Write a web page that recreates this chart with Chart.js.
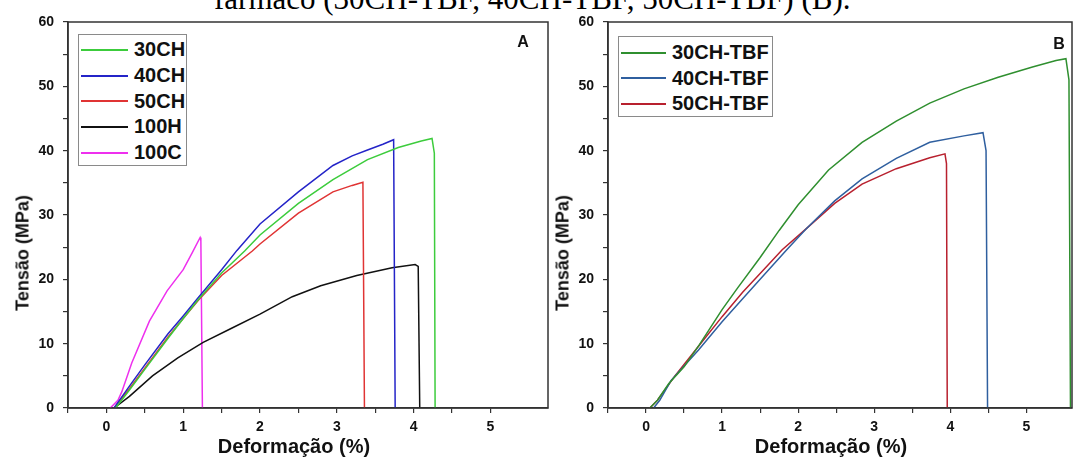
<!DOCTYPE html>
<html>
<head>
<meta charset="utf-8">
<script src="https://cdn.jsdelivr.net/npm/chart.js@4.4.1/dist/chart.umd.min.js"></script>
<style>
  body { margin: 0; background: #fff; width: 1073px; height: 457px; overflow: hidden; position: relative; font-family: "Liberation Sans", Arial, sans-serif; }
  .panel { position: absolute; top: 0; }
  .caption { position: absolute; top: -16px; left: 214px; font-family: "Liberation Serif", "Times New Roman", serif; font-size: 31px; line-height: 30px; white-space: nowrap; color: #000; }
  .ytitle, .xtitle { position: absolute; font-weight: bold; color: #111; white-space: nowrap; }
  .ytitle { font-size: 18px; transform: translate(-50%, -50%) rotate(-90deg); }
  .xtitle { font-size: 20px; transform: translate(-50%, -50%); }
  .tag { position: absolute; font-weight: bold; font-size: 16px; color: #111; transform: translate(-50%, -50%); }
  .legend { position: absolute; border: 1px solid #8a8a8a; background: #fff; box-sizing: border-box; }
  .legend .row { display: flex; align-items: center; font-weight: bold; font-size: 20px; color: #111; }
  .legend .swatch { height: 2px; margin-left: 2px; margin-right: 6px; }
</style>
</head>
<body>
<div class="caption">fármaco (30CH-TBF, 40CH-TBF, 50CH-TBF) (B).</div>

<div class="panel" style="left:0px"><canvas id="chartA" width="560" height="457"></canvas></div>
<div class="panel" style="left:540px"><canvas id="chartB" width="533" height="457"></canvas></div>

<div class="ytitle" style="left:23px; top:253px">Tensão (MPa)</div>
<div class="ytitle" style="left:563px; top:253px">Tensão (MPa)</div>
<div class="xtitle" style="left:294px; top:446px">Deformação (%)</div>
<div class="xtitle" style="left:831px; top:446px">Deformação (%)</div>
<div class="tag" style="left:523px; top:42px">A</div>
<div class="tag" style="left:1059px; top:44px">B</div>

<div class="legend" id="legendA" style="left:78px; top:34px; width:109px; height:132px; padding-top:2px"></div>
<div class="legend" id="legendB" style="left:618px; top:36px; width:155px; height:81px; padding-top:3px"></div>

<script>
// Panel A - strain (%) and stress (MPa)
const strain30CH = [0.12, 0.3, 0.5, 0.8, 1.0, 1.2, 1.5, 1.8, 2.0, 2.5, 2.95, 3.4, 3.8, 4.1, 4.24, 4.27, 4.28];
const stress30CH = [0, 2.8, 6.0, 10.8, 13.9, 16.9, 21.0, 24.4, 26.9, 31.8, 35.5, 38.6, 40.5, 41.5, 41.9, 39.6, 0];
const strain40CH = [0.1, 0.3, 0.5, 0.8, 1.0, 1.2, 1.5, 1.7, 2.0, 2.5, 2.95, 3.2, 3.4, 3.6, 3.74, 3.76];
const stress40CH = [0, 3.4, 6.7, 11.5, 14.3, 17.2, 21.5, 24.5, 28.6, 33.6, 37.7, 39.2, 40.1, 41.0, 41.7, 0];
const strain50CH = [0.1, 0.3, 0.5, 0.8, 1.0, 1.2, 1.5, 1.9, 2.0, 2.5, 2.95, 3.2, 3.34, 3.36];
const stress50CH = [0, 3.0, 6.2, 11.0, 13.9, 16.8, 20.6, 24.4, 25.5, 30.3, 33.6, 34.6, 35.1, 0];
const strain100H = [0.1, 0.3, 0.6, 0.93, 1.26, 1.63, 2.0, 2.42, 2.79, 3.26, 3.72, 4.02, 4.06, 4.08];
const stress100H = [0, 1.8, 5.0, 7.8, 10.2, 12.4, 14.6, 17.3, 19.0, 20.6, 21.8, 22.3, 22.0, 0];
const strain100C = [0.05, 0.15, 0.2, 0.33, 0.56, 0.79, 1.0, 1.12, 1.22, 1.23, 1.25];
const stress100C = [0, 1.2, 2.5, 7.0, 13.5, 18.2, 21.5, 24.2, 26.5, 26.0, 0];

// Panel B - with drug
const strain30TBF = [0.05, 0.15, 0.3, 0.5, 0.7, 1.0, 1.2, 1.5, 1.75, 2.0, 2.4, 2.84, 3.29, 3.73, 4.18, 4.63, 5.08, 5.39, 5.52, 5.56, 5.58];
const stress30TBF = [0, 1.2, 3.8, 6.4, 9.8, 15.3, 18.6, 23.4, 27.6, 31.6, 37.0, 41.3, 44.6, 47.4, 49.6, 51.4, 53.0, 54.0, 54.3, 51.0, 0];
const strain40TBF = [0.1, 0.18, 0.33, 0.69, 1.0, 1.27, 1.5, 1.85, 2.1, 2.48, 2.84, 3.29, 3.73, 4.18, 4.43, 4.47, 4.49];
const stress40TBF = [0, 1.2, 4.3, 9.0, 13.4, 17.0, 20.0, 24.6, 27.8, 32.2, 35.6, 38.8, 41.3, 42.3, 42.8, 40.0, 0];
const strain50TBF = [0.05, 0.15, 0.38, 0.69, 1.0, 1.27, 1.54, 1.79, 2.1, 2.48, 2.84, 3.29, 3.73, 3.93, 3.95, 3.96];
const stress50TBF = [0, 1.2, 5.0, 9.6, 14.2, 18.0, 21.4, 24.6, 27.8, 31.8, 34.8, 37.2, 38.9, 39.5, 38.0, 0];

const labelsA = ["30CH", "40CH", "50CH", "100H", "100C"];
const colorsA = ["#3ccc3c", "#2424c8", "#e03434", "#111111", "#ee30ee"];
const labelsB = ["30CH-TBF", "40CH-TBF", "50CH-TBF"];
const colorsB = ["#2f8f2f", "#2f5f9f", "#b8202e"];

const tickFont = { family: "'Liberation Sans', Arial, sans-serif", size: 14, weight: "bold" };

function toPoints(xs, ys) {
  return xs.map((x, i) => ({ x: x, y: ys[i] }));
}

function makeDatasets(labels, colors, series) {
  return series.map((s, i) => ({
    label: labels[i],
    data: toPoints(s[0], s[1]),
    borderColor: colors[i],
    borderWidth: 1.5,
    pointRadius: 0,
    showLine: true,
    tension: 0,
    fill: false,
  }));
}

// frame around the plot area (top and right sides)
const frame = {
  id: "frame",
  afterDraw(chart) {
    const a = chart.chartArea;
    const ctx = chart.ctx;
    ctx.save();
    ctx.strokeStyle = "#333";
    ctx.lineWidth = 1.5;
    ctx.strokeRect(a.left, a.top, a.right - a.left, a.bottom - a.top);
    ctx.restore();
  },
};

function makeChart(canvasId, datasets, xMax, rightPad) {
  const ctx = document.getElementById(canvasId).getContext("2d");
  return new Chart(ctx, {
    type: "scatter",
    data: { datasets: datasets },
    options: {
      responsive: false,
      animation: false,
      devicePixelRatio: 1,
      layout: { padding: { top: 22, right: rightPad, left: 0, bottom: 0 } },
      plugins: { legend: { display: false }, tooltip: { enabled: false } },
      scales: {
        x: {
          type: "linear",
          min: -0.5,
          max: xMax,
          afterFit: (scale) => { scale.height = 49; },
          afterBuildTicks: (scale) => {
            scale.ticks = scale.ticks.filter((t) => Math.abs(t.value * 2 - Math.round(t.value * 2)) < 1e-6);
          },
          ticks: {
            stepSize: 0.5,
            autoSkip: false,
            maxRotation: 0,
            padding: 6,
            color: "#111",
            font: tickFont,
            callback: (v) => (Math.abs(v - Math.round(v)) < 1e-6 ? String(Math.round(v)) : ""),
          },
          grid: { drawOnChartArea: false, drawTicks: true, tickLength: 5, color: "#333", lineWidth: 1.2 },
          border: { color: "#333", width: 1.5 },
        },
        y: {
          type: "linear",
          min: 0,
          max: 60,
          afterFit: (scale) => { scale.width = 68; },
          ticks: {
            stepSize: 5,
            autoSkip: false,
            padding: 9,
            color: "#111",
            font: tickFont,
            callback: (v) => (v % 10 === 0 ? String(v) : ""),
          },
          grid: { drawOnChartArea: false, drawTicks: true, tickLength: 5, color: "#333", lineWidth: 1.2 },
          border: { color: "#333", width: 1.5 },
        },
      },
    },
    plugins: [frame],
  });
}

function buildLegend(boxId, chart, rowHeight, lineWidth) {
  const box = document.getElementById(boxId);
  chart.data.datasets.forEach((ds) => {
    const row = document.createElement("div");
    row.className = "row";
    row.style.height = rowHeight + "px";
    const swatch = document.createElement("span");
    swatch.className = "swatch";
    swatch.style.width = lineWidth + "px";
    swatch.style.background = ds.borderColor;
    const text = document.createElement("span");
    text.textContent = ds.label;
    row.appendChild(swatch);
    row.appendChild(text);
    box.appendChild(row);
  });
}

document.addEventListener("DOMContentLoaded", function () {
  const chartA = makeChart(
    "chartA",
    makeDatasets(labelsA, colorsA, [
      [strain30CH, stress30CH],
      [strain40CH, stress40CH],
      [strain50CH, stress50CH],
      [strain100H, stress100H],
      [strain100C, stress100C],
    ]),
    5.75,
    12
  );
  const chartB = makeChart(
    "chartB",
    makeDatasets(labelsB, colorsB, [
      [strain30TBF, stress30TBF],
      [strain40TBF, stress40TBF],
      [strain50TBF, stress50TBF],
    ]),
    5.6,
    1
  );
  buildLegend("legendA", chartA, 25.7, 47);
  buildLegend("legendB", chartB, 25.5, 45);
});
</script>
</body>
</html>
